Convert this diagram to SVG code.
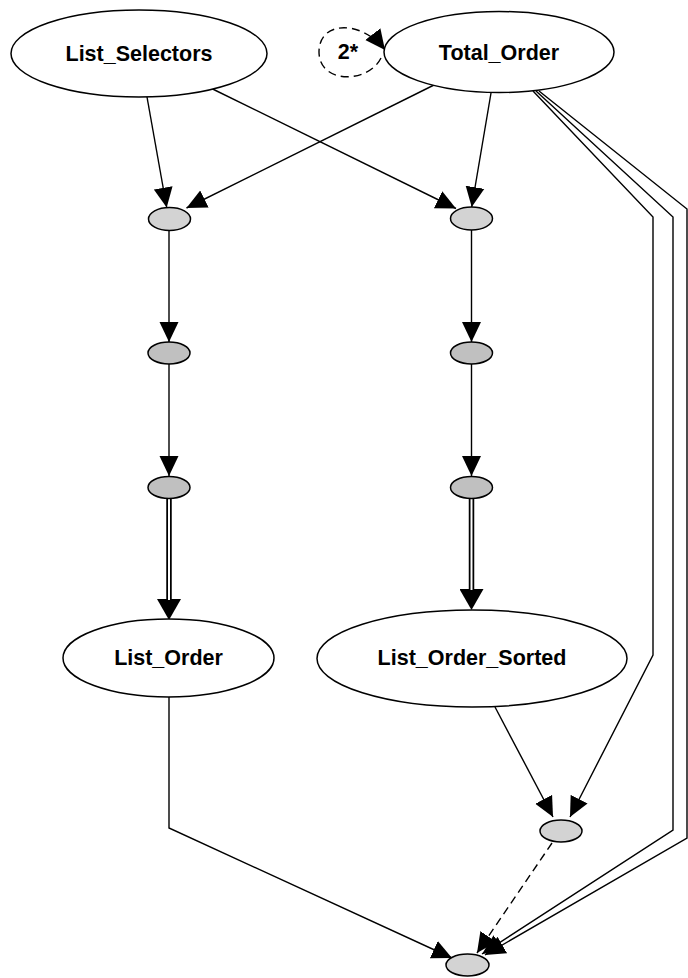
<svg xmlns="http://www.w3.org/2000/svg" width="688" height="978" viewBox="0 0 688 978">
<style>
.n{stroke:#000;stroke-width:1.5}
.big{fill:#fff}
.l1{fill:#d3d3d3}
.l2{fill:#c0c0c0}
.t{font-family:"Liberation Sans",Arial,sans-serif;font-weight:bold;font-size:21.5px;text-anchor:middle;fill:#000}
.e{fill:none;stroke:#000;stroke-width:1.4;marker-end:url(#a)}
.d{stroke-dasharray:8,5}
.dbl{fill:none;stroke:#000;stroke-width:5.5;marker-end:url(#b)}
.dw{fill:none;stroke:#fff;stroke-width:2}
</style>
<defs>
<marker id="a" markerUnits="userSpaceOnUse" viewBox="0 0 20 20" markerWidth="20" markerHeight="20" refX="20" refY="10" orient="auto">
<path d="M0,0.5 L20,10 L0,19.5 z" fill="#000"/>
</marker>
<marker id="b" markerUnits="userSpaceOnUse" viewBox="0 0 21 24" markerWidth="21" markerHeight="24" refX="0" refY="12" orient="auto">
<path d="M0,0 L21,12 L0,24 z" fill="#000"/>
</marker>
</defs>
<g id="connectors">
<path class="e d" d="M381,58 C368,84 319,84 319,52 C319,20 362,20 385,50"/>
<path class="e" d="M147,97 L166.7,207.5"/>
<path class="e" d="M210.6,88 L456,208.5"/>
<path class="e" d="M434,85 L186.5,208"/>
<path class="e" d="M491,93 L471.7,207"/>
<path class="e" d="M169,230.5 L169,342"/>
<path class="e" d="M169,364 L169,476"/>
<path class="e" d="M471.5,229.5 L471.5,342"/>
<path class="e" d="M471.5,364 L471.5,476"/>
<path class="dbl" d="M169,498.5 L169,599"/>
<path class="dw" d="M169,498.5 L169,600"/>
<path class="dbl" d="M471.5,498.5 L471.5,589"/>
<path class="dw" d="M471.5,498.5 L471.5,590"/>
<path class="e" d="M533,91 L653,217 L653,655 L570,817"/>
<path class="e" d="M536,91 L673,217 L673,830 L482,954"/>
<path class="e" d="M539,91 L687,209 L687,838 L485,955"/>
<path class="e" d="M495,707 L553,817"/>
<path class="e" d="M169,697 L169,828 L452,958"/>
<path class="e d" d="M552,843 L477,953"/>
</g>
<g id="List_Selectors">
<ellipse class="n big" cx="139" cy="53.5" rx="128" ry="43.5"/>
<text class="t" x="139" y="61">List_Selectors</text>
</g>
<g id="Total_Order">
<ellipse class="n big" cx="499" cy="52" rx="115" ry="40.5"/>
<text class="t" x="499" y="60">Total_Order</text>
</g>
<g id="loop_label">
<text class="t" x="348" y="59">2*</text>
</g>
<g id="n1"><ellipse class="n l1" cx="169.5" cy="219" rx="21" ry="11.5"/></g>
<g id="n2"><ellipse class="n l1" cx="471.5" cy="218.5" rx="21" ry="11.5"/></g>
<g id="n3"><ellipse class="n l2" cx="169" cy="353" rx="21" ry="11"/></g>
<g id="n4"><ellipse class="n l2" cx="471.5" cy="353" rx="21" ry="11"/></g>
<g id="n5"><ellipse class="n l2" cx="169" cy="487.5" rx="21" ry="11"/></g>
<g id="n6"><ellipse class="n l2" cx="471.5" cy="487.5" rx="21" ry="11"/></g>
<g id="List_Order">
<ellipse class="n big" cx="168.5" cy="658" rx="105.5" ry="39"/>
<text class="t" x="168.5" y="665">List_Order</text>
</g>
<g id="List_Order_Sorted">
<ellipse class="n big" cx="472" cy="658.5" rx="155" ry="48.5"/>
<text class="t" x="472" y="665">List_Order_Sorted</text>
</g>
<g id="n7"><ellipse class="n l1" cx="561" cy="831" rx="21" ry="11"/></g>
<g id="n8"><ellipse class="n l1" cx="467.5" cy="965" rx="21.5" ry="11"/></g>
</svg>
